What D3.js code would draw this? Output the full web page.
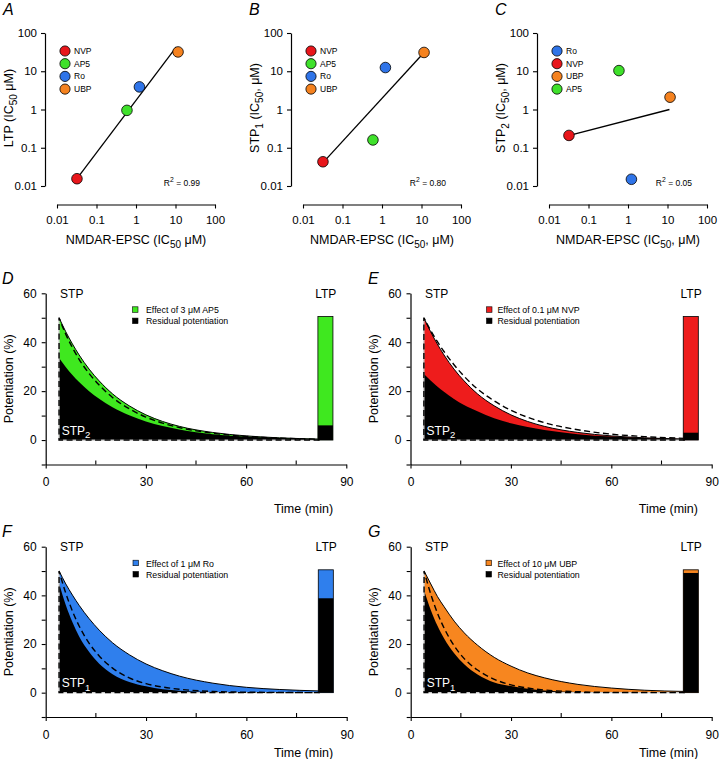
<!DOCTYPE html>
<html><head><meta charset="utf-8">
<script src="https://cdn.jsdelivr.net/npm/d3@7"></script>
<style>body{margin:0;background:#fff} svg{font-family:"Liberation Sans",Arial,Helvetica,sans-serif}</style>
</head><body><svg id="c" width="720" height="759"></svg>
<script>
// ---------- DATA ----------
const drugs = ["NVP", "AP5", "Ro", "UBP"];
const drugColors = ["#e8161b", "#3fe12b", "#2f74e8", "#f5821f"];
const nmdarIC50 = [0.032, 0.59, 1.22, 11.6];
const ltpIC50 = [0.0155, 0.95, 3.9, 32];
const stp1IC50 = [0.043, 0.16, 12.5, 31];
const stp2IC50 = [0.21, 10.4, 0.015, 2.1];
const legendOrderAB = ["NVP", "AP5", "Ro", "UBP"];
const legendOrderC = ["Ro", "NVP", "UBP", "AP5"];
const fitLTP = [[0.032, 0.0155], [10.4, 43]];
const fitSTP1 = [[0.033, 0.042], [11.6, 31]];
const fitSTP2 = [[0.033, 0.21], [11.2, 1.0]];
const r2Values = ["0.99", "0.80", "0.05"];
const logTicks = [0.01, 0.1, 1, 10, 100];
const logTickLabels = ["0.01", "0.1", "1", "10", "100"];

const timeMin = [4, 6, 8, 10, 13, 16, 20, 25, 30, 35, 40, 50, 60, 70, 82];
// D: AP5
const ap5Total    = [50, 44.3, 39.3, 34.8, 29.0, 24.2, 18.9, 14.0, 10.3, 7.6, 5.6, 3.1, 1.7, 0.9, 0.4];
const ap5Residual = [33.5, 29.9, 26.6, 23.7, 20.0, 16.9, 13.4, 10.1, 7.6, 5.7, 4.3, 2.4, 1.4, 0.8, 0.3];
const ap5Dashed   = [50, 43.3, 37.8, 33.0, 27.2, 22.5, 17.4, 12.8, 9.4, 6.9, 5.1, 2.8, 1.5, 0.8, 0.35];
// E: NVP
const nvpTotal    = [50, 44.3, 39.3, 34.8, 29.0, 24.2, 18.9, 14.0, 10.3, 7.6, 5.6, 3.1, 1.7, 0.9, 0.4];
const nvpResidual = [27, 24.3, 21.9, 19.7, 16.8, 14.3, 11.8, 8.9, 6.9, 5.3, 4.1, 2.4, 1.4, 0.8, 0.4];
const nvpDashed   = [50, 44.9, 40.3, 36.2, 30.8, 26.1, 20.9, 16.0, 12.2, 9.3, 7.1, 4.2, 2.4, 1.4, 0.7];
// F: Ro
const roTotal     = [50, 44.7, 40.1, 35.9, 30.4, 25.7, 20.5, 15.6, 11.8, 9.0, 6.8, 3.9, 2.2, 1.3, 0.7];
const roResidual  = [45, 36.0, 28.9, 23.1, 16.7, 11.9, 7.6, 4.4, 2.6, 1.4, 0.8, 0.3, 0.1, 0.05, 0];
const roDashed    = [50, 40.9, 33.5, 27.4, 20.3, 15.1, 10.1, 6.1, 3.7, 2.3, 1.4, 0.5, 0.2, 0.1, 0];
// G: UBP
const ubpTotal    = [50, 44.7, 39.5, 35.3, 29.4, 24.6, 19.5, 14.5, 10.9, 8.1, 6.1, 3.4, 1.9, 1.0, 0.5];
const ubpResidual = [42, 34.0, 27.5, 22.3, 16.2, 11.7, 7.5, 4.2, 2.7, 1.6, 0.9, 0.3, 0.1, 0.05, 0];
const ubpDashed   = [50, 40.5, 32.7, 26.5, 19.3, 14.0, 9.3, 5.5, 3.2, 1.9, 1.1, 0.4, 0.1, 0.05, 0];

const ltpWindow = [81.5, 86];
const ltpTotal = [50.5, 50.5, 50.5, 50.5];     // D, E, F, G
const ltpResidual = [6, 3, 38.8, 49.2];
const timeYTicks = [-10, 0, 10, 20, 30, 40, 50, 60];
const timeYLabels = ["", "0", "", "20", "", "40", "", "60"];
const timeXMajor = [0, 30, 60, 90];
const timeXMinor = [15, 45, 75];

// ---------- HELPERS ----------
const svg = d3.select("#c");
function rich(textSel, parts, fs) {
  let shift = 0;
  parts.forEach(p => {
    const t = textSel.append("tspan").text(p.t);
    const target = p.s === "sub" ? fs * 0.32 : p.s === "sup" ? -fs * 0.42 : 0;
    const dy = target - shift; shift = target;
    if (dy) t.attr("dy", dy);
    if (p.s) t.attr("font-size", fs * 0.8);
  });
}
function styleAxis(g, fs) {
  g.select(".domain").attr("stroke", "#000").attr("stroke-width", 1.2);
  g.selectAll(".tick line").attr("stroke", "#000").attr("stroke-width", 1.1);
  g.selectAll(".tick text").attr("font-size", fs).attr("fill", "#000").attr("font-family", "Liberation Sans, Arial, sans-serif");
}

// ---------- SCATTER PANELS ----------
function scatter(ox, letter, yVals, order, fit, r2, yLabelParts, xLabelParts) {
  const g = svg.append("g").attr("transform", `translate(${ox},0)`);
  const x = d3.scaleLog().domain([0.01, 100]).range([57, 215]);
  const y = d3.scaleLog().domain([0.01, 100]).range([186, 33]);
  g.append("text").attr("x", 3).attr("y", 15).attr("font-size", 16).attr("font-style", "italic").text(letter);
  const ya = g.append("g").attr("transform", "translate(45,0)")
    .call(d3.axisLeft(y).tickValues(logTicks).tickFormat((d, i) => logTickLabels[i]).tickSize(4).tickSizeOuter(0).tickPadding(4));
  styleAxis(ya, 11.5);
  const xa = g.append("g").attr("transform", "translate(0,204.5)")
    .call(d3.axisBottom(x).tickValues(logTicks).tickFormat((d, i) => logTickLabels[i]).tickSize(4).tickSizeOuter(0).tickPadding(7.5));
  styleAxis(xa, 11.5);
  g.append("path").attr("d", d3.line().x(d => x(d[0])).y(d => y(d[1]))(fit))
    .attr("stroke", "#000").attr("stroke-width", 1.3).attr("fill", "none");
  drugs.forEach((dname, i) => {
    g.append("circle").attr("cx", x(nmdarIC50[i])).attr("cy", y(yVals[i])).attr("r", 5.3)
      .attr("fill", drugColors[i]).attr("stroke", "#000").attr("stroke-width", 0.8);
  });
  order.forEach((dname, k) => {
    const i = drugs.indexOf(dname);
    const cy = 51 + k * 12.7;
    g.append("circle").attr("cx", 65).attr("cy", cy).attr("r", 5.1)
      .attr("fill", drugColors[i]).attr("stroke", "#000").attr("stroke-width", 0.8);
    g.append("text").attr("x", 74).attr("y", cy + 3).attr("font-size", 8.5).text(dname);
  });
  const rt = g.append("text").attr("x", 200).attr("y", 186).attr("font-size", 8.5).attr("text-anchor", "end");
  rich(rt, [{t: "R"}, {t: "2", s: "sup"}, {t: " = " + r2}], 8.5);
  const yl = g.append("text").attr("transform", "translate(12.5,108) rotate(-90)").attr("text-anchor", "middle").attr("font-size", 12.5);
  rich(yl, yLabelParts, 12.5);
  const xl = g.append("text").attr("x", 136).attr("y", 244).attr("text-anchor", "middle").attr("font-size", 12.5);
  rich(xl, xLabelParts, 12.5);
}

scatter(0, "A", ltpIC50, legendOrderAB, fitLTP, r2Values[0],
  [{t: "LTP (IC"}, {t: "50", s: "sub"}, {t: " μM)"}],
  [{t: "NMDAR-EPSC (IC"}, {t: "50", s: "sub"}, {t: " μM)"}]);
scatter(246, "B", stp1IC50, legendOrderAB, fitSTP1, r2Values[1],
  [{t: "STP"}, {t: "1", s: "sub"}, {t: " (IC"}, {t: "50", s: "sub"}, {t: ", μM)"}],
  [{t: "NMDAR-EPSC (IC"}, {t: "50", s: "sub"}, {t: ", μM)"}]);
scatter(492, "C", stp2IC50, legendOrderC, fitSTP2, r2Values[2],
  [{t: "STP"}, {t: "2", s: "sub"}, {t: " (IC"}, {t: "50", s: "sub"}, {t: ", μM)"}],
  [{t: "NMDAR-EPSC (IC"}, {t: "50", s: "sub"}, {t: ", μM)"}]);

// ---------- TIME-COURSE PANELS ----------
function timePanel(cfg) {
  const {x0, x1, yTop, yBot, letter, lx, ly, color, total, resid, dashed, idx, legendText, legSq, legTx, stpSub, timeDy} = cfg;
  const g = svg.append("g");
  const x = d3.scaleLinear().domain([0, 90]).range([x0, x1]);
  const y = d3.scaleLinear().domain([-10, 60]).range([yBot, yTop]);
  g.append("text").attr("x", lx).attr("y", ly).attr("font-size", 16).attr("font-style", "italic").text(letter);

  const pts = timeMin.map((t, i) => ({t, tot: total[i], res: resid[i], das: dashed[i]}));
  const curve = d3.curveMonotoneX;
  g.append("path").datum(pts).attr("fill", color)
    .attr("d", d3.area().curve(curve).x(d => x(d.t)).y0(y(0)).y1(d => y(d.tot)));
  g.append("path").datum(pts).attr("fill", "#000")
    .attr("d", d3.area().curve(curve).x(d => x(d.t)).y0(y(0)).y1(d => y(d.res)));
  g.append("path").datum(pts).attr("fill", "none").attr("stroke", "#000").attr("stroke-width", 1)
    .attr("d", d3.line().curve(curve).x(d => x(d.t)).y(d => y(d.tot)));
  const t0 = timeMin[0], tN = timeMin[timeMin.length - 1];
  g.append("path").attr("fill", "none").attr("stroke", "#c8c8c8").attr("stroke-width", 1.3)
    .attr("d", `M${x(t0)},${y(dashed[0])}L${x(t0)},${y(0)}L${x(tN)},${y(0)}`);
  const dashLine = d3.line().curve(curve).x(d => x(d.t)).y(d => y(d.das))(pts);
  g.append("path").attr("fill", "none").attr("stroke", "#000").attr("stroke-width", 1.4)
    .attr("stroke-dasharray", "6,3.5")
    .attr("d", `M${x(tN)},${y(0)}L${x(t0)},${y(0)}L${x(t0)},${y(dashed[0])}` + dashLine.replace(/^M[^A-Za-z]*/, "L" + x(t0) + "," + y(dashed[0])));
  const bx = x(ltpWindow[0]), bw = x(ltpWindow[1]) - x(ltpWindow[0]);
  g.append("rect").attr("x", bx).attr("width", bw).attr("y", y(ltpTotal[idx])).attr("height", y(0) - y(ltpTotal[idx])).attr("fill", color);
  g.append("rect").attr("x", bx).attr("width", bw).attr("y", y(ltpResidual[idx])).attr("height", y(0) - y(ltpResidual[idx])).attr("fill", "#000");
  g.append("rect").attr("x", bx).attr("width", bw).attr("y", y(ltpTotal[idx])).attr("height", y(0) - y(ltpTotal[idx]))
    .attr("fill", "none").attr("stroke", "#000").attr("stroke-width", 0.8);

  const ya = g.append("g").attr("transform", `translate(${x0},0)`)
    .call(d3.axisLeft(y).tickValues(timeYTicks).tickFormat((d, i) => timeYLabels[i]).tickSize(4).tickSizeOuter(0).tickPadding(5));
  styleAxis(ya, 12);
  const xa = g.append("g").attr("transform", `translate(0,${yBot})`)
    .call(d3.axisBottom(x).tickValues(timeXMajor).tickFormat(d3.format("d")).tickSize(4).tickSizeOuter(0).tickPadding(9));
  styleAxis(xa, 12);
  timeXMinor.forEach(v => {
    g.append("line").attr("x1", x(v)).attr("x2", x(v)).attr("y1", yBot).attr("y2", yBot - 4)
      .attr("stroke", "#000").attr("stroke-width", 1.1);
  });

  g.append("text").attr("x", x(4.3)).attr("y", yTop + 4.5).attr("font-size", 12).text("STP");
  g.append("text").attr("x", x(80.7)).attr("y", yTop + 4.5).attr("font-size", 12).text("LTP");
  const st = g.append("text").attr("x", x(4.8)).attr("y", y(0) - 5.5).attr("font-size", 12).attr("fill", "#fff");
  rich(st, [{t: "STP"}, {t: stpSub, s: "sub"}], 12);
  g.append("rect").attr("x", legSq).attr("y", yTop + 13.5).attr("width", 5.5).attr("height", 5.5)
    .attr("fill", color).attr("stroke", "#000").attr("stroke-width", 0.6);
  g.append("rect").attr("x", legSq).attr("y", yTop + 24.8).attr("width", 5.5).attr("height", 5.5)
    .attr("fill", "#000").attr("stroke", "#000").attr("stroke-width", 0.6);
  g.append("text").attr("x", legTx).attr("y", yTop + 19.8).attr("font-size", 8.8).text(legendText);
  g.append("text").attr("x", legTx).attr("y", yTop + 31.1).attr("font-size", 8.8).text("Residual potentiation");
  g.append("text").attr("transform", `translate(${x0 - 32.5},${(yTop + yBot) / 2}) rotate(-90)`)
    .attr("text-anchor", "middle").attr("font-size", 12.5).text("Potentiation (%)");
  g.append("text").attr("x", x0 + 287.5).attr("y", yBot + timeDy).attr("text-anchor", "end").attr("font-size", 12.5).text("Time (min)");
}

timePanel({x0: 45.7, x1: 346.3, yTop: 293.3, yBot: 464.5, letter: "D", lx: 2, ly: 284, color: "#3fe81f",
  total: ap5Total, resid: ap5Residual, dashed: ap5Dashed, idx: 0, legendText: "Effect of 3 μM AP5",
  legSq: 132.5, legTx: 146, stpSub: "2", timeDy: 48});
timePanel({x0: 410.5, x1: 711.7, yTop: 293.3, yBot: 464.5, letter: "E", lx: 368, ly: 284, color: "#ee1c1c",
  total: nvpTotal, resid: nvpResidual, dashed: nvpDashed, idx: 1, legendText: "Effect of 0.1 μM NVP",
  legSq: 486.5, legTx: 497.5, stpSub: "2", timeDy: 48});
timePanel({x0: 45.7, x1: 346.7, yTop: 546.7, yBot: 717, letter: "F", lx: 2, ly: 537, color: "#2f7fed",
  total: roTotal, resid: roResidual, dashed: roDashed, idx: 2, legendText: "Effect of 1 μM Ro",
  legSq: 133, legTx: 146, stpSub: "1", timeDy: 40});
timePanel({x0: 410.7, x1: 711.7, yTop: 546.7, yBot: 717, letter: "G", lx: 368, ly: 537, color: "#f7861f",
  total: ubpTotal, resid: ubpResidual, dashed: ubpDashed, idx: 3, legendText: "Effect of 10 μM UBP",
  legSq: 486, legTx: 497.5, stpSub: "1", timeDy: 40});
</script></body></html>
